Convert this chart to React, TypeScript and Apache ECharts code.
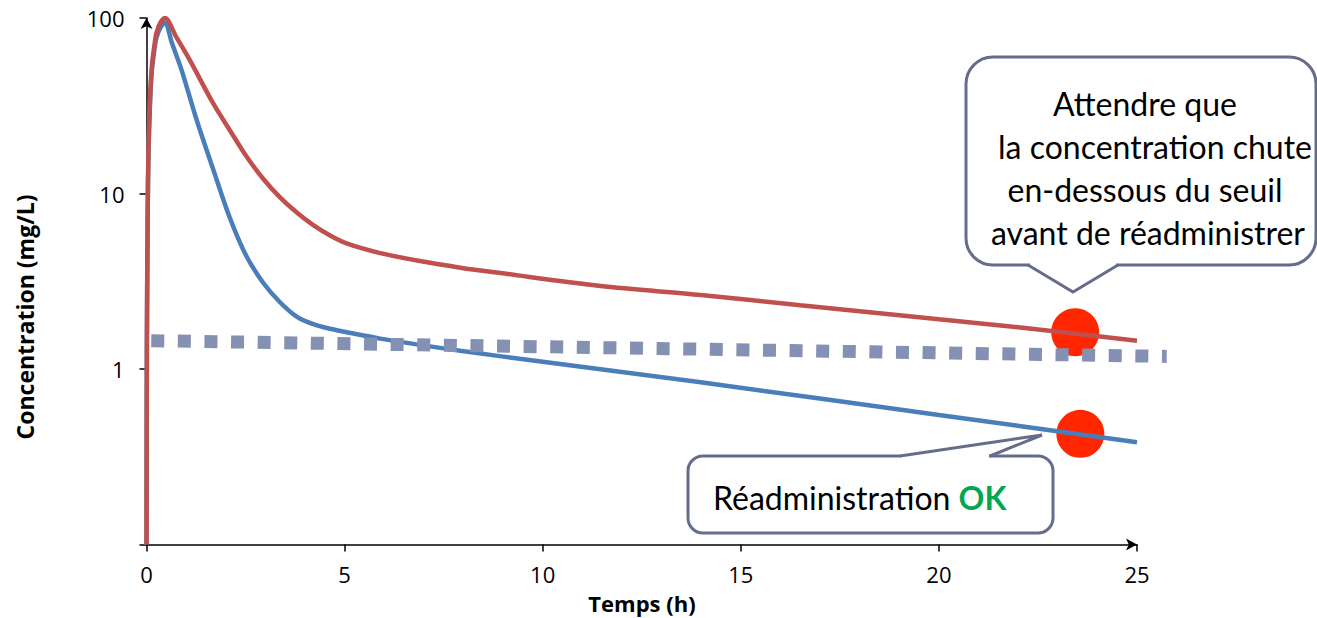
import { useEffect, useRef } from "react";
import * as echarts from "echarts";

// Time axis (h)
const xTicks = [0, 5, 10, 15, 20, 25];

// Red curve: slow elimination
const redTime = [0, 0.01, 0.03, 0.05, 0.09, 0.135, 0.2, 0.25, 0.35, 0.47, 0.75, 1.09, 1.68, 2.1, 2.52, 2.95, 3.37, 3.8, 4.21, 4.6, 5.05, 5.9, 6.9, 7.92, 8.93, 11.46, 13.99, 16.5, 20, 22, 25];
const redConc = [0.1, 1.5, 8, 18, 35, 53, 70, 82, 94, 100, 78, 57.7, 32.7, 23, 16.3, 12.1, 9.5, 7.76, 6.6, 5.82, 5.19, 4.57, 4.12, 3.78, 3.52, 2.97, 2.64, 2.31, 1.92, 1.73, 1.45];

// Blue curve: fast elimination
const blueTime = [0, 0.01, 0.03, 0.05, 0.09, 0.135, 0.2, 0.25, 0.35, 0.46, 0.65, 0.88, 1.26, 1.68, 2.1, 2.52, 2.94, 3.37, 3.8, 4.21, 4.6, 5.05, 5.9, 7.92, 10, 13.99, 20, 25];
const blueConc = [0.1, 1.4, 7.5, 17, 33, 50, 66, 77, 88, 94, 71, 51, 26.5, 13.8, 7.3, 4.4, 3.11, 2.4, 1.98, 1.8, 1.7, 1.62, 1.49, 1.27, 1.1, 0.84, 0.547, 0.383];

// Threshold (seuil)
const seuilTime = [0.12, 25.75];
const seuilConc = [1.45, 1.18];

// Markers at re-administration time
const dotTime = [23.44, 23.57];
const dotConc = [1.62, 0.427];

const pair = (t: number[], c: number[]) => t.map((x, i) => [x, c[i]]);

export default function App() {
  const ref = useRef<HTMLDivElement>(null);
  useEffect(() => {
    const chart = echarts.init(ref.current!, null, { renderer: "svg" });
    const stroke = "#666c8c";
    const calloutFont = "Lato";
    const gridLeft = 146.5;
    const axisEndX = 1137;
    const xMax = xTicks[xTicks.length - 1];
    const pxPerHour = (axisEndX - gridLeft) / xMax;
    const seuilMax = seuilTime[seuilTime.length - 1];
    chart.setOption({
      animation: false,
      grid: [
        { left: gridLeft, right: 1317 - axisEndX, top: 18, bottom: 73.5 },
        { left: gridLeft, right: 1317 - (gridLeft + seuilMax * pxPerHour), top: 18, bottom: 73.5 },
      ],
      xAxis: [
        {
          type: "value",
          gridIndex: 0,
          min: xTicks[0],
          max: xMax,
          interval: 5,
          axisLine: {
            show: true,
            lineStyle: { color: "#000", width: 1.5 },
            symbol: ["none", "arrow"],
            symbolSize: [9, 11],
          },
          axisTick: { show: true, length: 7, lineStyle: { color: "#000", width: 1.5 } },
          axisLabel: { margin: 18, fontSize: 22, color: "#000", fontFamily: "Open Sans" },
          splitLine: { show: false },
        },
        {
          type: "value",
          gridIndex: 1,
          min: 0,
          max: seuilMax,
          show: false,
        },
      ],
      yAxis: [
        {
          type: "log",
          gridIndex: 0,
          logBase: 10,
          min: 0.1,
          max: 100,
          axisLine: {
            show: true,
            onZero: false,
            lineStyle: { color: "#000", width: 1.5 },
            symbol: ["none", "arrow"],
            symbolSize: [9, 11],
          },
          axisTick: { show: true, length: 7, lineStyle: { color: "#000", width: 1.5 } },
          axisLabel: {
            margin: 22,
            fontSize: 22,
            color: "#000",
            fontFamily: "Open Sans",
            formatter: (v: number) => (v >= 1 ? String(Math.round(v)) : ""),
          },
          splitLine: { show: false },
        },
        {
          type: "log",
          gridIndex: 1,
          logBase: 10,
          min: 0.1,
          max: 100,
          show: false,
        },
      ],
      series: [
        {
          type: "line",
          data: pair(blueTime, blueConc),
          showSymbol: false,
          smooth: 0.3,
          lineStyle: { color: "#4a7ebb", width: 4.5 },
        },
        {
          type: "line",
          data: pair(redTime, redConc),
          showSymbol: false,
          smooth: 0.3,
          lineStyle: { color: "#c0504d", width: 4.5 },
        },
        {
          type: "scatter",
          data: pair(dotTime, dotConc),
          symbol: "circle",
          symbolSize: 48,
          itemStyle: { color: "#ff2600", opacity: 1 },
        },
        {
          type: "line",
          xAxisIndex: 1,
          yAxisIndex: 1,
          data: pair(seuilTime, seuilConc),
          showSymbol: false,
          lineStyle: { color: "#8591b3", width: 13, type: [13, 13.6], cap: "butt" },
        },
      ],
      graphic: [
        {
          type: "text",
          x: 25,
          y: 317,
          rotation: Math.PI / 2,
          style: {
            text: "Concentration (mg/L)",
            font: "bold 23px 'Open Sans'",
            fill: "#000",
            align: "center",
            verticalAlign: "middle",
          },
        },
        {
          type: "text",
          x: 642,
          y: 603,
          style: {
            text: "Temps (h)",
            font: "bold 22px 'Open Sans'",
            fill: "#000",
            align: "center",
            verticalAlign: "middle",
          },
        },
        // Callout 1
        {
          type: "rect",
          z: 100,
          shape: { x: 966, y: 57, width: 350, height: 208, r: 27 },
          style: { fill: "#fff", stroke, lineWidth: 3 },
        },
        {
          type: "rect",
          z: 101,
          shape: { x: 1030, y: 262, width: 86, height: 6 },
          style: { fill: "#fff" },
        },
        {
          type: "polyline",
          z: 102,
          shape: { points: [[1028, 265], [1073, 292], [1118, 265]] },
          style: { fill: "none", stroke, lineWidth: 3 },
        },
        ...[
          ["Attendre que", 1145, 103],
          ["la concentration chute", 1155, 146],
          ["en-dessous du seuil", 1145, 189],
          ["avant de réadministrer", 1148, 232],
        ].map(([t, x, y]) => ({
          type: "text",
          z: 103,
          x: x as number,
          y: y as number,
          style: {
            text: t as string,
            font: `32px ${calloutFont}`,
            fill: "#000",
            align: "center",
            verticalAlign: "middle",
          },
        })),
        // Callout 2
        {
          type: "rect",
          z: 100,
          shape: { x: 688, y: 456, width: 365, height: 77, r: 15 },
          style: { fill: "#fff", stroke, lineWidth: 3 },
        },
        {
          type: "rect",
          z: 101,
          shape: { x: 901, y: 453, width: 88, height: 6 },
          style: { fill: "#fff" },
        },
        {
          type: "polyline",
          z: 102,
          shape: { points: [[900, 456], [1042, 435], [990, 456]] },
          style: { fill: "none", stroke, lineWidth: 3 },
        },
        {
          type: "text",
          z: 103,
          x: 713,
          y: 497,
          style: {
            text: "{a|Réadministration }{b|OK}",
            verticalAlign: "middle",
            align: "left",
            rich: {
              a: { fontSize: 32, fontFamily: calloutFont, fill: "#000" },
              b: { fontSize: 32, fontFamily: calloutFont, fontWeight: "bold", fill: "#00a650" },
            },
          },
        },
      ],
    });
    return () => chart.dispose();
  }, []);
  return (
    <div
      ref={ref}
      style={{ position: "fixed", left: 0, top: 0, width: 1317, height: 618, background: "#fff" }}
    />
  );
}
